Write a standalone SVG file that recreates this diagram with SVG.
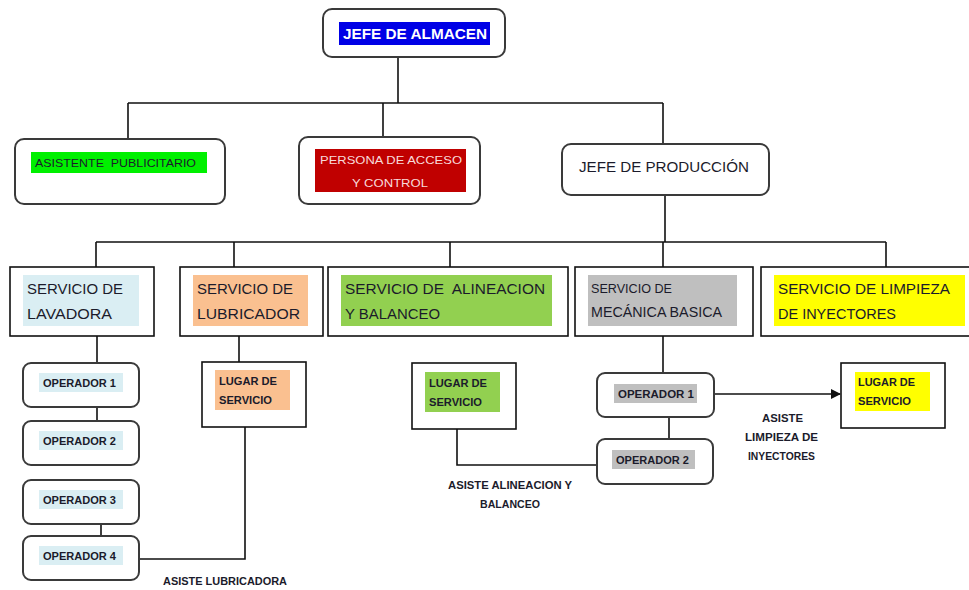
<svg xmlns="http://www.w3.org/2000/svg" width="969" height="590" viewBox="0 0 969 590">
<style>
.rb{fill:#fff;stroke:#3a3a3a;stroke-width:2}
.sb{fill:#fff;stroke:#111;stroke-width:1.6}
.ln{fill:none;stroke:#111;stroke-width:1.6}
text{font-family:"Liberation Sans",Arial,sans-serif;fill:#1b1b2b}
.big{font-size:15px}
.sm{font-size:10px;font-weight:bold}
.md{font-size:11px}
</style>
<defs>
<marker id="ah" markerWidth="10" markerHeight="10" refX="9" refY="5" orient="auto" markerUnits="userSpaceOnUse">
<path d="M0,0 L10,5 L0,10 z" fill="#111"/>
</marker>
</defs>
<rect width="969" height="590" fill="#fff"/>
<g id="connectors">
<path class="ln" d="M398,57 V103 M128,103 H663 M128,103 V140 M383,103 V138 M663,103 V144"/>
<path class="ln" d="M665,195 V242 M96,242 H886 M96,242 V267 M234,242 V267 M450,242 V267 M663,242 V267 M886,242 V267"/>
<path class="ln" d="M97,336 V363 M97,407 V421 M101,524 V536"/>
<path class="ln" d="M239,336 V362 M245,427 V559 H139"/>
<path class="ln" d="M457,429 V465 H597"/>
<path class="ln" d="M663,336 V373 M669,417 V439"/>
<path class="ln" d="M714,394 H840" marker-end="url(#ah)"/>
</g>
<g id="jefe-almacen">
<rect class="rb" x="323" y="9" width="182" height="48" rx="9"/>
<rect x="339" y="22" width="151" height="23" fill="#0000E6"/>
<text x="343" y="39" font-size="15" font-weight="bold" style="fill:#fff" textLength="144" lengthAdjust="spacingAndGlyphs">JEFE DE ALMACEN</text>
</g>
<g id="asistente">
<rect class="rb" x="15" y="139" width="210" height="65" rx="9"/>
<rect x="31" y="152" width="176" height="21" fill="#00F000"/>
<text class="md" x="35" y="167" textLength="161" lengthAdjust="spacingAndGlyphs" xml:space="preserve">ASISTENTE  PUBLICITARIO</text>
</g>
<g id="persona">
<rect class="rb" x="299" y="137" width="181" height="67" rx="9"/>
<rect x="315" y="149" width="151" height="43" fill="#C00000"/>
<text class="md" x="320" y="164" style="fill:#F8DADA" textLength="142" lengthAdjust="spacingAndGlyphs">PERSONA DE ACCESO</text>
<text class="md" x="352" y="187" style="fill:#F8DADA" textLength="76" lengthAdjust="spacingAndGlyphs">Y CONTROL</text>
</g>
<g id="jefe-produccion">
<rect class="rb" x="562" y="144" width="207" height="51" rx="9"/>
<text class="big" x="579" y="172" textLength="170" lengthAdjust="spacingAndGlyphs">JEFE DE PRODUCCIÓN</text>
</g>
<g id="serv-lavadora">
<rect class="sb" x="10" y="267" width="144" height="69"/>
<rect x="23" y="275" width="116" height="51" fill="#DAEEF3"/>
<text class="big" x="27" y="294" textLength="96" lengthAdjust="spacingAndGlyphs">SERVICIO DE</text>
<text class="big" x="27" y="319" textLength="85" lengthAdjust="spacingAndGlyphs">LAVADORA</text>
</g>
<g id="serv-lubricador">
<rect class="sb" x="180" y="267" width="143" height="69"/>
<rect x="193" y="275" width="115" height="51" fill="#FAC090"/>
<text class="big" x="197" y="294" textLength="96" lengthAdjust="spacingAndGlyphs">SERVICIO DE</text>
<text class="big" x="197" y="319" textLength="103" lengthAdjust="spacingAndGlyphs">LUBRICADOR</text>
</g>
<g id="serv-alineacion">
<rect class="sb" x="328" y="267" width="240" height="69"/>
<rect x="341" y="275" width="211" height="51" fill="#92D050"/>
<text class="big" x="345" y="294" textLength="200" lengthAdjust="spacingAndGlyphs" xml:space="preserve">SERVICIO DE  ALINEACION</text>
<text class="big" x="345" y="319" textLength="95" lengthAdjust="spacingAndGlyphs">Y BALANCEO</text>
</g>
<g id="serv-mecanica">
<rect class="sb" x="575" y="267" width="178" height="69"/>
<rect x="588" y="275" width="149" height="51" fill="#BFBFBF"/>
<text x="591" y="293" font-size="12" textLength="81" lengthAdjust="spacingAndGlyphs">SERVICIO DE</text>
<text x="591" y="317" font-size="14" textLength="131" lengthAdjust="spacingAndGlyphs">MECÁNICA BASICA</text>
</g>
<g id="serv-limpieza">
<rect class="sb" x="761" y="267" width="215" height="69"/>
<rect x="774" y="275" width="191" height="51" fill="#FFFF00"/>
<text class="big" x="778" y="294" textLength="172" lengthAdjust="spacingAndGlyphs">SERVICIO DE LIMPIEZA</text>
<text class="big" x="778" y="319" textLength="118" lengthAdjust="spacingAndGlyphs">DE INYECTORES</text>
</g>
<g id="op1-lav">
<rect class="rb" x="23" y="363" width="116" height="44" rx="8"/>
<rect x="39" y="373" width="84" height="19" fill="#DAEEF3"/>
<text class="sm" x="43" y="387" textLength="73" lengthAdjust="spacingAndGlyphs">OPERADOR 1</text>
</g>
<g id="op2-lav">
<rect class="rb" x="23" y="421" width="116" height="44" rx="8"/>
<rect x="39" y="431" width="84" height="19" fill="#DAEEF3"/>
<text class="sm" x="43" y="445" textLength="73" lengthAdjust="spacingAndGlyphs">OPERADOR 2</text>
</g>
<g id="op3-lav">
<rect class="rb" x="23" y="480" width="116" height="44" rx="8"/>
<rect x="39" y="490" width="84" height="19" fill="#DAEEF3"/>
<text class="sm" x="43" y="504" textLength="73" lengthAdjust="spacingAndGlyphs">OPERADOR 3</text>
</g>
<g id="op4-lav">
<rect class="rb" x="23" y="536" width="116" height="44" rx="8"/>
<rect x="39" y="546" width="84" height="19" fill="#DAEEF3"/>
<text class="sm" x="43" y="560" textLength="73" lengthAdjust="spacingAndGlyphs">OPERADOR 4</text>
</g>
<g id="lugar-lub">
<rect class="sb" x="202" y="362" width="104" height="65"/>
<rect x="215" y="370" width="75" height="40" fill="#FAC090"/>
<text class="sm" x="219" y="385" textLength="58" lengthAdjust="spacingAndGlyphs">LUGAR DE</text>
<text class="sm" x="219" y="404" textLength="53" lengthAdjust="spacingAndGlyphs">SERVICIO</text>
</g>
<g id="lugar-ali">
<rect class="sb" x="412" y="363" width="104" height="66"/>
<rect x="425" y="372" width="75" height="40" fill="#92D050"/>
<text class="sm" x="429" y="387" textLength="58" lengthAdjust="spacingAndGlyphs">LUGAR DE</text>
<text class="sm" x="429" y="406" textLength="53" lengthAdjust="spacingAndGlyphs">SERVICIO</text>
</g>
<g id="op1-mec">
<rect class="rb" x="597" y="373" width="117" height="44" rx="8"/>
<rect x="614" y="384" width="83" height="19" fill="#BFBFBF"/>
<text class="sm" x="618" y="398" textLength="76" lengthAdjust="spacingAndGlyphs">OPERADOR 1</text>
</g>
<g id="op2-mec">
<rect class="rb" x="597" y="439" width="116" height="45" rx="8"/>
<rect x="612" y="450" width="83" height="19" fill="#BFBFBF"/>
<text class="sm" x="616" y="464" textLength="73" lengthAdjust="spacingAndGlyphs">OPERADOR 2</text>
</g>
<g id="lugar-lim">
<rect class="sb" x="841" y="363" width="104" height="65"/>
<rect x="855" y="372" width="75" height="39" fill="#FFFF00"/>
<text class="sm" x="858" y="386" textLength="57" lengthAdjust="spacingAndGlyphs">LUGAR DE</text>
<text class="sm" x="858" y="405" textLength="53" lengthAdjust="spacingAndGlyphs">SERVICIO</text>
</g>
<g id="labels">
<text class="sm" x="163" y="585" textLength="124" lengthAdjust="spacingAndGlyphs">ASISTE LUBRICADORA</text>
<text class="sm" x="448" y="489" textLength="124" lengthAdjust="spacingAndGlyphs">ASISTE ALINEACION Y</text>
<text class="sm" x="480" y="508" textLength="60" lengthAdjust="spacingAndGlyphs">BALANCEO</text>
<text class="sm" x="762" y="422" textLength="41" lengthAdjust="spacingAndGlyphs">ASISTE</text>
<text class="sm" x="745" y="441" textLength="73" lengthAdjust="spacingAndGlyphs">LIMPIEZA DE</text>
<text class="sm" x="748" y="460" textLength="67" lengthAdjust="spacingAndGlyphs">INYECTORES</text>
</g>
</svg>
